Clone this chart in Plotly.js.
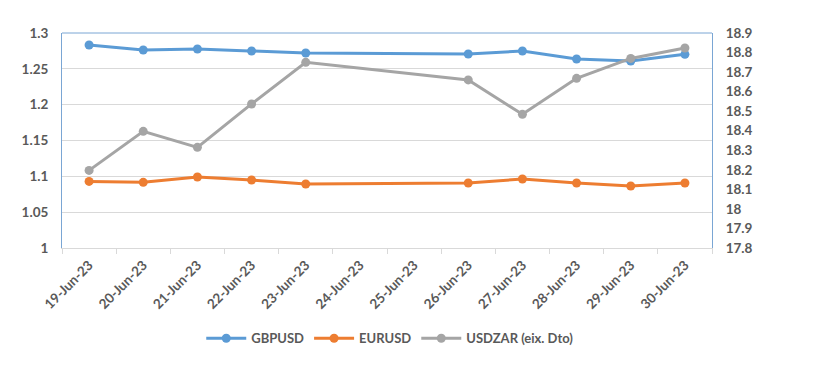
<!DOCTYPE html>
<html>
<head>
<meta charset="utf-8">
<script src="https://cdn.plot.ly/plotly-3.0.1.min.js"></script>
<style>html,body{margin:0;padding:0;background:#fff;}#chart{width:813px;height:367px;}</style>
</head>
<body>
<div id="chart"></div>
<script>
const dates = ["19-Jun-23","20-Jun-23","21-Jun-23","22-Jun-23","23-Jun-23","24-Jun-23","25-Jun-23","26-Jun-23","27-Jun-23","28-Jun-23","29-Jun-23","30-Jun-23"];
const gbpusd = [1.2833,1.2763,1.2777,1.2749,1.2721,null,null,1.2707,1.2749,1.2637,1.2609,1.2702];
const eurusd = [1.0929,1.0916,1.0991,1.0949,1.0893,null,null,1.0907,1.0963,1.0907,1.0865,1.0907];
const usdzar = [18.197,18.397,18.315,18.537,18.750,null,null,18.660,18.484,18.668,18.770,18.823];
const names = ["GBPUSD","EURUSD","USDZAR (eix. Dto)"];

const fontFam = "Lato, 'Open Sans', sans-serif";
const txtCol = "#595959";
function tr(y, name, color, axis){
  return {x: dates, y: y, name: name, type: 'scatter', mode: 'lines+markers',
    connectgaps: true, yaxis: axis,
    line: {color: color, width: 3}, marker: {color: color, size: 9}};
}
const data = [
  tr(gbpusd, names[0], '#5b9bd5', 'y'),
  tr(eurusd, names[1], '#ed7d31', 'y'),
  tr(usdzar, names[2], '#a5a5a5', 'y2')
];
const layout = {
  width: 813, height: 367,
  margin: {l: 62, r: 101, t: 33, b: 119},
  paper_bgcolor: '#fff', plot_bgcolor: '#fff',
  font: {family: fontFam, size: 13, color: txtCol, weight: 'bold'},
  showlegend: true,
  legend: {orientation: 'h', x: 0.505, xanchor: 'center', y: -0.42, yanchor: 'middle',
    font: {family: fontFam, size: 13, color: txtCol, weight: 'bold'}, itemwidth: 40, tracegroupgap: 0},
  xaxis: {type: 'category', range: [-0.5, dates.length - 0.5], tickangle: -45, tickson: 'boundaries',
    ticks: 'outside', ticklen: 5,
    tickcolor: '#d9d9d9', showline: true, linecolor: '#d9d9d9', linewidth: 1, showgrid: false,
    automargin: false, ticklabelstandoff: 3,
    tickfont: {family: fontFam, size: 13.5, color: txtCol, weight: 'bold'}, zeroline: false},
  yaxis: {range: [1, 1.3], dtick: 0.05, tick0: 1, showgrid: true, gridcolor: '#d9d9d9', gridwidth: 1,
    showline: true, linecolor: '#7aa6d4', linewidth: 1, ticks: '', ticklabelstandoff: 10, zeroline: false,
    automargin: false,
    tickfont: {family: fontFam, size: 13.5, color: txtCol, weight: 'bold'}},
  yaxis2: {range: [17.8, 18.9], dtick: 0.1, tick0: 17.8, overlaying: 'y', side: 'right', showgrid: false,
    showline: true, linecolor: '#7aa6d4', linewidth: 1, ticks: '', ticklabelstandoff: 10, zeroline: false,
    automargin: false,
    tickfont: {family: fontFam, size: 13.5, color: txtCol, weight: 'bold'}},
  shapes: [{type: 'line', xref: 'paper', yref: 'paper', x0: 0, x1: 1, y0: 1, y1: 1,
    line: {color: '#7aa6d4', width: 1}}]
};
Plotly.newPlot('chart', data, layout, {displayModeBar: false, staticPlot: true});
</script>
</body>
</html>
